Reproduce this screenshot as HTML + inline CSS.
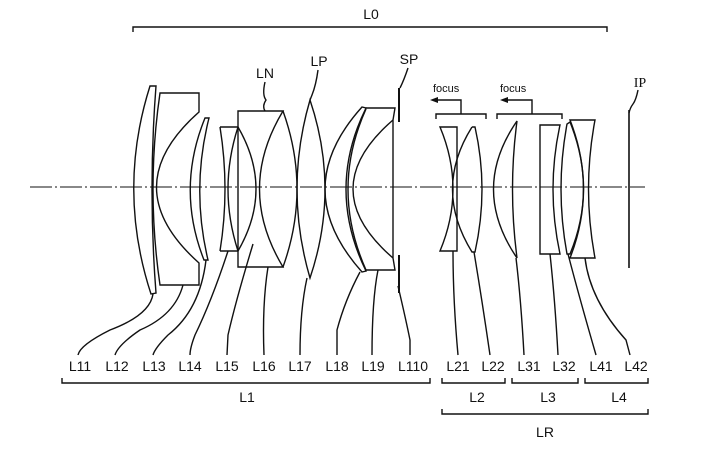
<!DOCTYPE html>
<html><head><meta charset="utf-8"><style>
html,body{margin:0;padding:0;background:#fff;}
svg{display:block;}
text{font-family:"Liberation Sans",sans-serif;fill:#111;}
</style></head><body>
<svg width="728" height="450" viewBox="0 0 728 450" xmlns="http://www.w3.org/2000/svg">
<g fill="none" stroke="#111" stroke-width="1.4">
<path d="M133,32 V27 H607 V32"/>
<path d="M30,187 H645" stroke-width="1" stroke-dasharray="22,3,2,3"/>
<!-- L11 -->
<path d="M150,86 L156,86 Q148,190 156,293 L151,294 Q117,190 150,86 Z"/>
<!-- L12 -->
<path d="M160,93 H199 V112 Q114,187 199,263 V285 H160 Q146,189 160,93 Z"/>
<!-- L13 -->
<path d="M205,118 L209,118 Q191,189 208,260 L204,260 Q176,189 205,118 Z"/>
<!-- L14 -->
<path d="M220,127 H238 M220,251 H238 M220,127 Q230,189 220,251"/>
<!-- L15 -->
<path d="M238,127 Q274,189 238,251 Q218,189 238,127 Z"/>
<!-- L16 -->
<path d="M238,111 H283 Q236,189 283,267 H238 Z"/>
<!-- L17 -->
<path d="M283,111 Q311,189 283,267"/>
<!-- LP -->
<path d="M310,100 Q340,189 310,278 Q284,189 310,100 Z"/>
<!-- L18 -->
<path d="M362,107 Q288,189 362,272 L366,271 Q326,189 366,108 Z"/>
<path d="M366,109 Q330,189 366,270"/>
<!-- L19 -->
<path d="M366,108 H395 L393,120 V258 L395,270 H366"/>
<path d="M393,120 Q313,189 393,258"/>
<!-- SP -->
<path d="M399,88 V122 M399,255 V293" stroke-width="2"/>
<!-- L21 -->
<path d="M440,127 H457 V251 H440 Q466,189 440,127 Z"/>
<!-- L22 -->
<path d="M472,127 H475 Q489,189 475,252 H472 Q433,189 472,127"/>
<!-- L31 -->
<path d="M517,121 Q470,189 517,258 Q508,189 517,121 Z"/>
<!-- L32 -->
<path d="M540,125 H560 Q546,189 560,254 H540 Z"/>
<!-- L41 -->
<path d="M567,124 Q555,189 567,254 L570,254 Q597,189 570,122 Z"/>
<!-- L42 -->
<path d="M570,120 H595 Q582,189 595,258 H570 Q597,189 570,120 Z"/>
<!-- IP -->
<path d="M629,110 V268" stroke-width="1.6"/>
<!-- focus -->
<path d="M436,119 V114 H486 V119 M461,114 V100 H433"/>
<path d="M497,119 V114 H562 V119 M532,114 V100 H503"/>
<!-- top leaders -->
<path d="M265,82 Q262,95 266,100 Q262,106 265,111"/>
<path d="M318,70 Q316,85 312,95 L310,100"/>
<path d="M408,68 Q404,80 400,88"/>
<path d="M638,90 Q636,100 633,104 Q630,108 629,113"/>
<!-- bottom leaders -->
<path d="M153,294 Q150,315 110,330 Q80,345 78,355"/>
<path d="M183,285 Q175,315 140,330 Q118,345 115,355"/>
<path d="M206,260 Q200,310 168,335 Q155,348 153,355"/>
<path d="M228,251 Q212,300 195,335 Q190,348 190,355"/>
<path d="M253,244 Q236,300 228,335 L227,355"/>
<path d="M268,267 Q262,305 264,355"/>
<path d="M307,278 Q300,310 300,355"/>
<path d="M360,272 Q345,300 337,330 L337,355"/>
<path d="M378,270 Q372,300 372,355"/>
<path d="M398,286 Q406,320 410,340 L410,355"/>
<path d="M453,251 Q453,300 458,355"/>
<path d="M474,252 Q482,300 490,355"/>
<path d="M516,258 Q521,300 524,355"/>
<path d="M550,254 Q555,300 558,355"/>
<path d="M568,254 Q580,300 596,355"/>
<path d="M585,258 Q590,300 626,340 L630,355"/>
<!-- bottom brackets -->
<path d="M62,378 V383 H430 V378"/>
<path d="M442,378 V383 H505 V378"/>
<path d="M512,378 V383 H578 V378"/>
<path d="M585,378 V383 H648 V378"/>
<path d="M442,409 V414 H648 V409"/>
</g>
<path d="M430,100 L438,97 L438,103 Z" fill="#111"/>
<path d="M500,100 L508,97 L508,103 Z" fill="#111"/>
<g font-size="14">
<text x="371" y="19" text-anchor="middle">L0</text>
<text x="265" y="78" text-anchor="middle">LN</text>
<text x="319" y="66" text-anchor="middle">LP</text>
<text x="409" y="64" text-anchor="middle">SP</text>
<text x="640" y="87" text-anchor="middle" style="font-family:'Liberation Serif',serif">IP</text>
</g>
<g font-size="11">
<text x="433" y="92">focus</text>
<text x="500" y="92">focus</text>
</g>
<g font-size="14" text-anchor="middle">
<text x="80" y="371">L11</text>
<text x="117" y="371">L12</text>
<text x="154" y="371">L13</text>
<text x="190" y="371">L14</text>
<text x="227" y="371">L15</text>
<text x="264" y="371">L16</text>
<text x="300" y="371">L17</text>
<text x="337" y="371">L18</text>
<text x="373" y="371">L19</text>
<text x="413" y="371">L110</text>
<text x="458" y="371">L21</text>
<text x="493" y="371">L22</text>
<text x="529" y="371">L31</text>
<text x="564" y="371">L32</text>
<text x="601" y="371">L41</text>
<text x="636" y="371">L42</text>
<text x="247" y="402">L1</text>
<text x="477" y="402">L2</text>
<text x="548" y="402">L3</text>
<text x="619" y="402">L4</text>
<text x="545" y="437">LR</text>
</g>
</svg>
</body></html>
